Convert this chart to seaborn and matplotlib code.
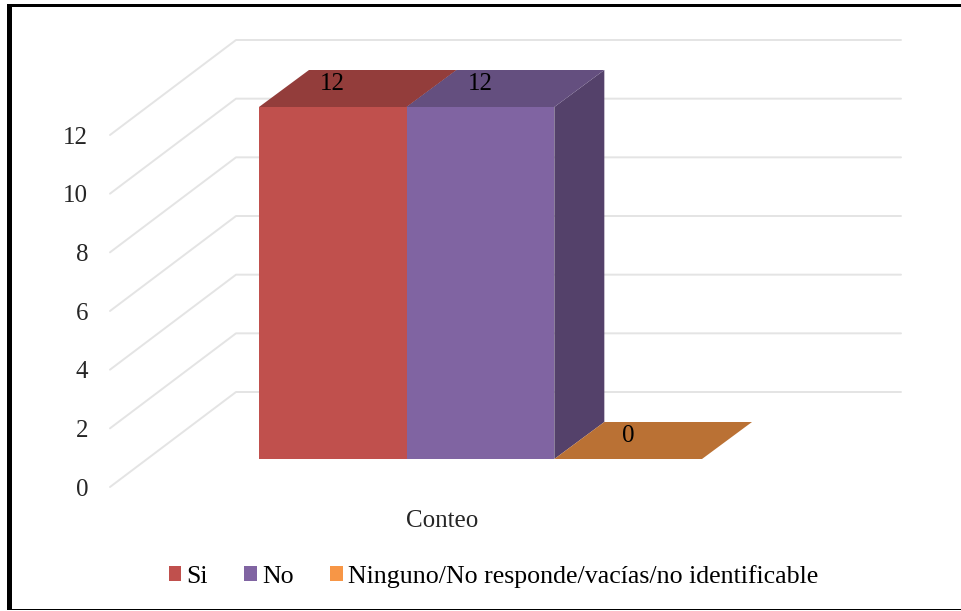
import pandas as pd
import seaborn as sns
import matplotlib
matplotlib.use("Agg")
import matplotlib.pyplot as plt
from matplotlib.lines import Line2D
from matplotlib.patches import Polygon, Rectangle
from matplotlib.transforms import ScaledTranslation

# Chart values
group_name = "Conteo"
answers = ["Si", "No", "Ninguno/No responde/vacías/no identificable"]
counts = [12, 12, 0]
y_ticks = [0, 2, 4, 6, 8, 10, 12]

# Colours: front face, top face, side face
front_colors = ["#C0504D", "#8064A2", "#F79646"]
top_colors = ["#933D3B", "#644F7F", "#BA7134"]
side_color = "#54416A"
grid_color = "#E4E4E4"

W, H = 961, 611
LEFT, RIGHT, BOTTOM, TOP = 259, 702, 459, 107  # front plane in pixels
px_x = (RIGHT - LEFT)
px_y = (BOTTOM - TOP) / 12

sns.set_theme(style="white")
plt.rcParams["font.family"] = ["Liberation Serif", "DejaVu Serif"]
plt.rcParams["text.color"] = "black"
FONT = 18

fig = plt.figure(figsize=(W / 100, H / 100), dpi=100)
ax = fig.add_axes([LEFT / W, 1 - BOTTOM / H, (RIGHT - LEFT) / W, (BOTTOM - TOP) / H])

df = pd.DataFrame({"grupo": [group_name] * 3, "respuesta": answers, "conteo": counts})
sns.barplot(data=df, x="grupo", y="conteo", hue="respuesta", hue_order=answers,
            palette=front_colors, saturation=1, width=1, gap=0, dodge=True,
            linewidth=0, ax=ax, zorder=3)
ax.set_xlim(-0.5, 0.5)
ax.set_ylim(0, 12)
ax.set_xlabel("")
ax.set_ylabel("")
ax.patch.set_alpha(0)
sns.despine(ax=ax, left=True, bottom=True)


def to_x(p):
    return -0.5 + (p - LEFT) / px_x


# Depth of the box in data units
depth_x = 50 / px_x
depth_y = 37 / px_y

# Floor and wall grid lines
for v in y_ticks:
    ax.add_line(Line2D([to_x(110), to_x(236), to_x(901)],
                       [v - 28 / px_y, v + 67 / px_y, v + 67 / px_y],
                       color=grid_color, lw=1.4, clip_on=False, zorder=1))

# Top and side faces built from the bars seaborn drew
for container, top_c in zip(ax.containers, top_colors):
    bar = container[0]
    x0, x1 = bar.get_x(), bar.get_x() + bar.get_width()
    h = bar.get_height()
    ax.add_patch(Polygon([(x0, h), (x1, h), (x1 + depth_x, h + depth_y), (x0 + depth_x, h + depth_y)],
                         facecolor=top_c, edgecolor="none", clip_on=False, zorder=2.1))
    if h > 0:
        ax.add_patch(Polygon([(x1, h), (x1 + depth_x, h + depth_y), (x1 + depth_x, depth_y), (x1, 0)],
                             facecolor=side_color, edgecolor="none", clip_on=False, zorder=2))
    ax.bar_label(container, fontsize=FONT, padding=9, zorder=6, clip_on=False)

# Ticks sit lower than the front plane, on the floor edge
ax.set_yticks(y_ticks)
ax.set_yticklabels([str(v) for v in y_ticks], fontsize=FONT)
ax.tick_params(axis="y", length=0, pad=123)
ax.tick_params(axis="x", length=0, pad=36.7, labelsize=FONT)
y_shift = ScaledTranslation(0, -28 / 100, fig.dpi_scale_trans)
for label in ax.get_yticklabels():
    label.set_transform(label.get_transform() + y_shift)
x_shift = ScaledTranslation(-38 / 100, 0, fig.dpi_scale_trans)
for label in ax.get_xticklabels():
    label.set_transform(label.get_transform() + x_shift)

# Legend along the bottom
ax.legend(title=None, loc="center", bbox_to_anchor=(493.5 / W, 1 - 576.5 / H),
          bbox_transform=fig.transFigure, ncol=3, frameon=False, fontsize=18.6,
          handlelength=0.5, handleheight=0.5, handletextpad=0.2, columnspacing=1.4,
          borderpad=0, borderaxespad=0)

# Black frame: heavy on left and top, thin at the bottom
for x, y, w, h in [(7, 4, 5, 606), (7, 4, 954, 3), (7, 609, 954, 1)]:
    fig.add_artist(Rectangle((x / W, 1 - (y + h) / H), w / W, h / H,
                             transform=fig.transFigure, facecolor="black", edgecolor="none"))

fig.savefig("out.png", dpi=100)
